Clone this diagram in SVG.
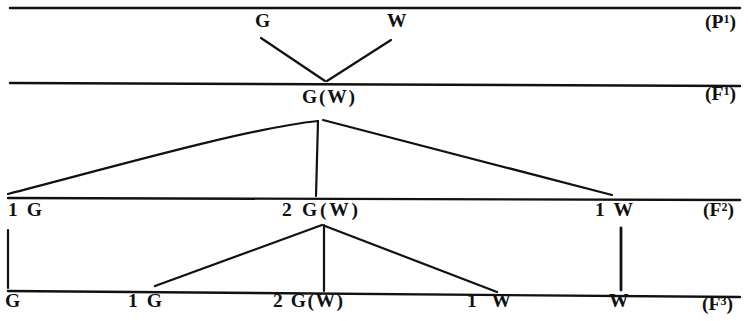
<svg xmlns="http://www.w3.org/2000/svg" width="748" height="321" viewBox="0 0 748 321">
<style>
.rule{stroke:#111;stroke-width:2.4;fill:none;stroke-linecap:round}
.c{stroke:#111;stroke-width:2.2;fill:none;stroke-linecap:round}
.t{font-family:"Liberation Serif","Times New Roman",serif;font-weight:bold;font-size:19.5px;fill:#111}
.sup{font-size:12px}
</style>
<rect width="748" height="321" fill="#fff"/>
<g id="generation-lines">
<line class="rule" x1="10" y1="8" x2="740" y2="8"/>
<line class="rule" x1="10" y1="83" x2="740" y2="86"/>
<line class="rule" x1="8" y1="198" x2="740" y2="200"/>
<line class="rule" x1="8" y1="291" x2="740" y2="297"/>
</g>
<g id="connectors">
<line class="c" x1="261" y1="38" x2="325" y2="81"/>
<line class="c" x1="391" y1="40" x2="327" y2="81"/>
<path class="c" d="M8,194 C120,165 250,128 318,121"/>
<line class="c" x1="318" y1="121" x2="316" y2="196"/>
<line class="c" x1="323" y1="120" x2="612" y2="195"/>
<line class="c" x1="322" y1="225" x2="155" y2="286"/>
<line class="c" x1="324" y1="225" x2="324" y2="291"/>
<line class="c" x1="325" y1="226" x2="497" y2="292"/>
<line class="c" x1="8" y1="230" x2="8" y2="288"/>
<line class="c" x1="621" y1="228" x2="621" y2="290" style="stroke-width:2.8"/>
</g>
<g id="P1">
<text class="t" x="255" y="27">G</text>
<text class="t" x="387" y="27">W</text>
<text class="t" x="705" y="28">(P<tspan class="sup" dy="-5">1</tspan><tspan dy="5">)</tspan></text>
</g>
<g id="F1">
<text class="t" x="302" y="103" textLength="53" lengthAdjust="spacing">G(W)</text>
<text class="t" x="705" y="100">(F<tspan class="sup" dy="-5">1</tspan><tspan dy="5">)</tspan></text>
</g>
<g id="F2">
<text class="t" x="8" y="216" textLength="34" lengthAdjust="spacing">1 G</text>
<text class="t" x="282" y="216" textLength="76" lengthAdjust="spacing">2 G(W)</text>
<text class="t" x="595" y="216" textLength="38" lengthAdjust="spacing">1 W</text>
<text class="t" x="703" y="216">(F<tspan class="sup" dy="-5">2</tspan><tspan dy="5">)</tspan></text>
</g>
<g id="F3">
<text class="t" x="5" y="307">G</text>
<text class="t" x="128" y="307" textLength="34" lengthAdjust="spacing">1 G</text>
<text class="t" x="273" y="307" textLength="70" lengthAdjust="spacing">2 G(W)</text>
<text class="t" x="467" y="307" textLength="44" lengthAdjust="spacing">1 W</text>
<text class="t" x="609" y="307">W</text>
<text class="t" x="702" y="310">(F<tspan class="sup" dy="-5">3</tspan><tspan dy="5">)</tspan></text>
</g>
</svg>
